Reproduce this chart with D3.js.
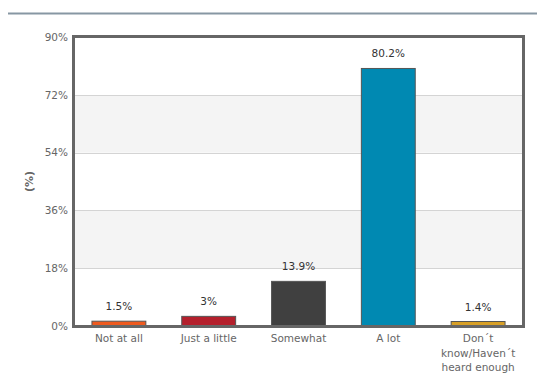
<!DOCTYPE html>
<html>
<head>
<meta charset="utf-8">
<script src="https://cdn.jsdelivr.net/npm/d3@7"></script>
<style>
  html, body { margin: 0; padding: 0; background: #fff; }
  svg { display: block; font-family: "DejaVu Sans", Verdana, sans-serif; }
</style>
</head>
<body>
<svg id="chart" width="537" height="389"></svg>
<script>
// Survey answers and their shares (%)
const categories = ["Not at all", "Just a little", "Somewhat", "A lot", "Don´t\nknow/Haven´t\nheard enough"];
const values = [1.5, 3, 13.9, 80.2, 1.4];
const barColors = ["#ee5a1f", "#b4202c", "#404040", "#0089b2", "#d8a027"];
const yTicks = [0, 18, 36, 54, 72, 90];
const yTitle = "(%)";

const svg = d3.select("#chart");
const W = 537, H = 389;
const m = { left: 74, right: 14, top: 37, bottom: 63 };
const plotW = W - m.left - m.right;
const plotH = H - m.top - m.bottom;

// header rule
svg.append("line")
  .attr("x1", 8).attr("x2", W).attr("y1", 13.5).attr("y2", 13.5)
  .attr("stroke", "#8797a3").attr("stroke-width", 2);

const x = d3.scaleBand().domain(categories).range([m.left, m.left + plotW]).paddingInner(0.4).paddingOuter(0.2);
const y = d3.scaleLinear().domain([0, 90]).range([m.top + plotH, m.top]);

// alternating horizontal bands
const g = svg.append("g");
yTicks.slice(0, -1).forEach((t, i) => {
  const next = yTicks[i + 1];
  g.append("rect")
    .attr("x", m.left).attr("width", plotW)
    .attr("y", y(next)).attr("height", y(t) - y(next))
    .attr("fill", i % 2 === 1 ? "#f4f4f4" : "#ffffff");
});

// gridlines
g.selectAll("line.grid").data(yTicks.slice(1, -1)).join("line")
  .attr("class", "grid")
  .attr("x1", m.left).attr("x2", m.left + plotW)
  .attr("y1", d => Math.round(y(d)) + 0.5).attr("y2", d => Math.round(y(d)) + 0.5)
  .attr("stroke", "#d4d4d4").attr("stroke-width", 1);

// bars
svg.append("g").selectAll("rect").data(values).join("rect")
  .attr("x", (d, i) => x(categories[i]))
  .attr("width", x.bandwidth())
  .attr("y", d => y(d))
  .attr("height", d => y(0) - y(d))
  .attr("fill", (d, i) => barColors[i])
  .attr("stroke", "#555").attr("stroke-width", 1);

// value labels
svg.append("g").selectAll("text").data(values).join("text")
  .attr("x", (d, i) => x(categories[i]) + x.bandwidth() / 2)
  .attr("y", d => y(d) - 11)
  .attr("text-anchor", "middle")
  .attr("font-size", 10.5)
  .attr("fill", "#333")
  .text(d => d + "%");

// frame
svg.append("rect")
  .attr("x", m.left - 0.5).attr("y", m.top - 0.5)
  .attr("width", plotW + 1).attr("height", plotH + 1)
  .attr("fill", "none").attr("stroke", "#666").attr("stroke-width", 3);

// y axis
const yAxis = svg.append("g")
  .attr("transform", `translate(${m.left - 3},0)`)
  .call(d3.axisLeft(y).tickValues(yTicks).tickFormat(d => d + "%").tickSize(0).tickPadding(3));
yAxis.select(".domain").remove();
yAxis.selectAll("text").attr("font-size", 10.5).attr("fill", "#666").attr("font-family", "DejaVu Sans, Verdana, sans-serif");

// y title
svg.append("text")
  .attr("transform", `translate(30,${m.top + plotH / 2}) rotate(-90)`)
  .attr("text-anchor", "middle")
  .attr("dominant-baseline", "middle")
  .attr("font-size", 11).attr("font-weight", "bold")
  .attr("fill", "#666")
  .text(yTitle);

// x axis category labels (multi-line)
const xAxis = svg.append("g")
  .attr("transform", `translate(0,${m.top + plotH})`)
  .call(d3.axisBottom(x).tickSize(0).tickPadding(0));
xAxis.select(".domain").remove();
xAxis.selectAll("text").each(function(d) {
  const t = d3.select(this).text(null)
    .attr("font-size", 10.5).attr("fill", "#666")
    .attr("font-family", "DejaVu Sans, Verdana, sans-serif")
    .attr("y", 0).attr("dy", 0);
  d.split("\n").forEach((line, i) => {
    t.append("tspan").attr("x", 0).attr("y", 16 + i * 14.5).text(line);
  });
});
</script>
</body>
</html>
